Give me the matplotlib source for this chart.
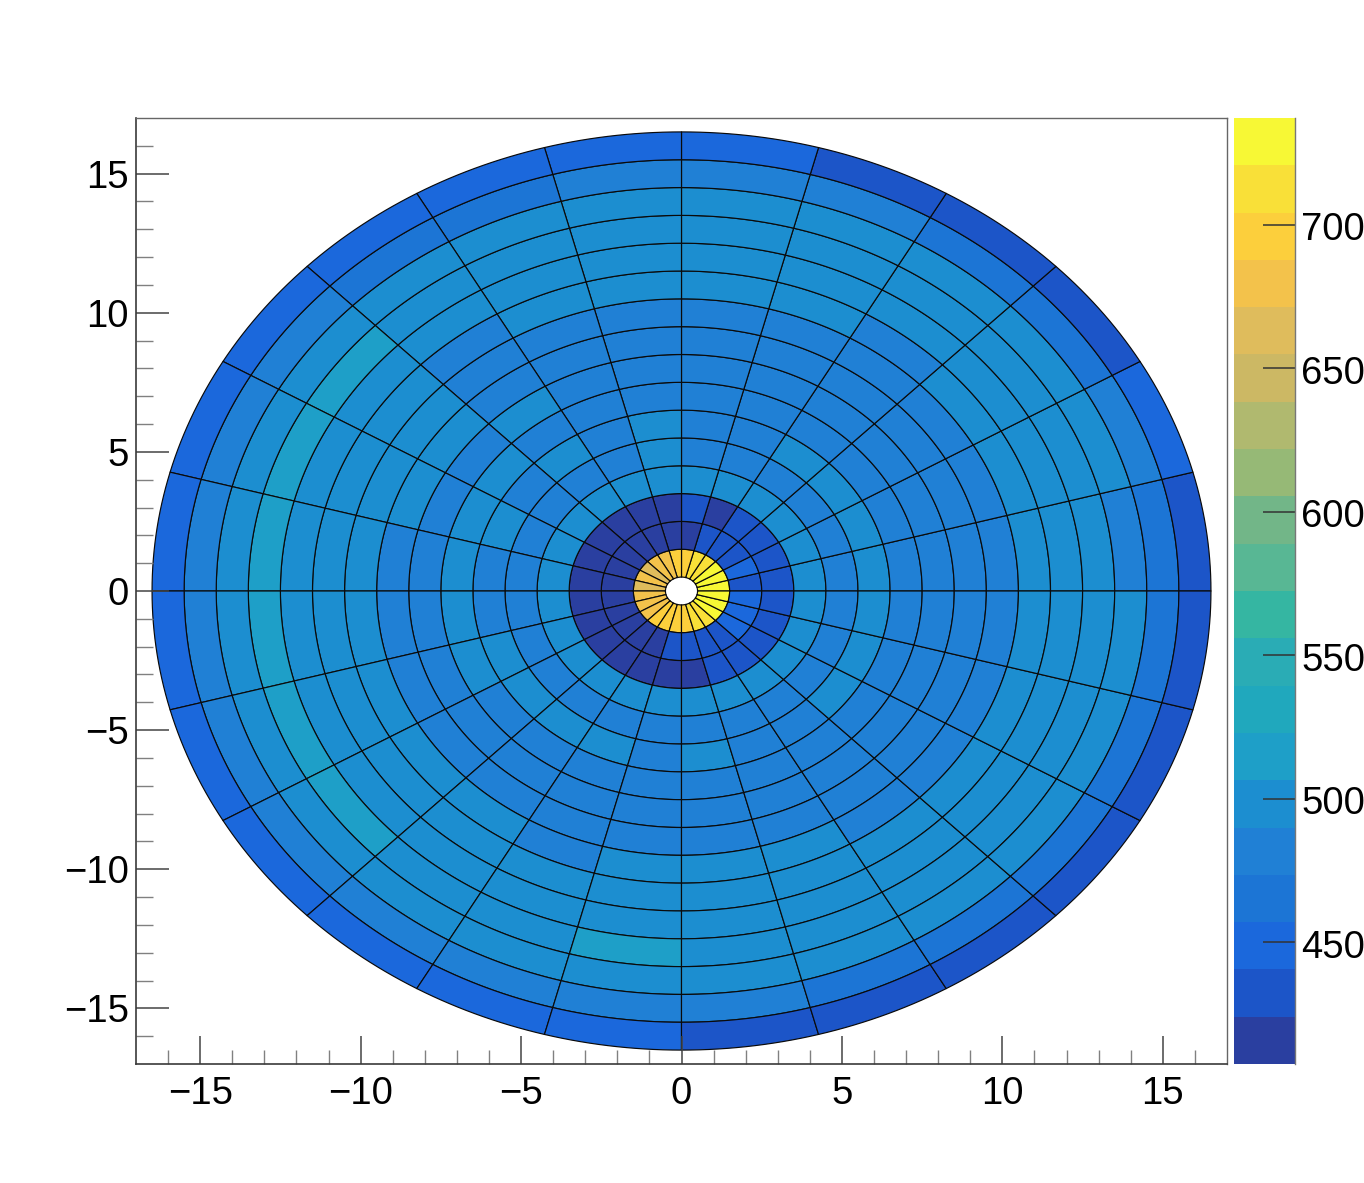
import numpy as np
import matplotlib
matplotlib.use("Agg")
import matplotlib.pyplot as plt
from matplotlib.collections import PolyCollection
from matplotlib.colors import ListedColormap, BoundaryNorm
from matplotlib.transforms import ScaledTranslation

# Bin structure
radial_edges = np.arange(0.5, 17.0, 1.0)
sector_edges_deg = np.arange(0, 361, 15)

# Cell contents per ring (inner to outer), sectors counter-clockwise from 0 degrees
ring_01 = [729,729,729,712,712,696,696,679,679,663,679,663,679,679,679,696,696,696,696,712,712,729,729,729]
ring_02 = [432,449,432,432,432,416,416,416,416,416,416,416,416,416,416,416,416,432,432,432,432,449,449,449]
ring_03 = [432,432,432,432,416,432,416,416,416,416,416,416,416,416,416,416,416,416,416,432,432,432,432,432]
ring_04 = [498,498,498,498,498,498,498,498,498,498,498,498,498,498,498,498,498,498,498,498,498,498,498,498]
ring_05 = [482,482,482,482,482,482,498,482,482,482,482,482,482,482,482,482,482,482,482,482,482,482,482,482]
ring_06 = [498,498,498,498,482,482,498,482,498,482,498,482,482,498,498,498,498,482,498,482,482,498,498,498]
ring_07 = [482,482,482,482,482,482,482,482,482,498,498,498,498,498,482,482,482,482,482,482,482,482,482,482]
ring_08 = [482,482,482,482,482,482,482,482,498,482,482,482,482,482,482,482,482,482,482,482,482,482,482,482]
ring_09 = [482,482,482,482,482,482,482,482,482,498,498,482,482,482,482,482,482,482,482,482,482,482,482,482]
ring_10 = [482,482,482,482,482,482,482,482,482,498,498,498,498,498,498,498,482,498,498,498,482,482,482,482]
ring_11 = [498,498,498,482,498,498,498,498,482,498,498,498,498,498,498,498,498,498,498,498,498,498,498,498]
ring_12 = [498,498,498,498,498,498,498,498,498,498,498,498,498,498,498,498,498,498,498,498,498,498,498,498]
ring_13 = [498,498,498,498,498,498,498,498,498,515,515,515,515,515,515,498,498,515,498,498,498,498,498,498]
ring_14 = [482,498,498,498,498,498,498,498,498,498,498,498,498,498,498,498,498,498,498,498,498,498,498,498]
ring_15 = [465,482,465,465,482,482,482,465,465,482,482,482,482,482,482,482,482,482,482,465,465,465,465,465]
ring_16 = [432,449,432,432,432,449,449,449,449,449,449,449,449,449,449,449,449,449,432,432,432,432,432,432]
rings = [ring_01, ring_02, ring_03, ring_04, ring_05, ring_06, ring_07, ring_08,
         ring_09, ring_10, ring_11, ring_12, ring_13, ring_14, ring_15, ring_16]

# Palette as rendered in the colour bar, low to high
palette = ["#2a3fa0", "#1c55c8", "#1b68dc", "#1c75d5", "#2080d5", "#1c8ed0", "#1e9fc8",
           "#20a8bd", "#2aacb5", "#35b6a2", "#58b794", "#72b688", "#96b976", "#b0b96f",
           "#ccb864", "#dfbc5c", "#f3c24b", "#fccf3c", "#f9e038", "#f7f835"]
z_min = 407.5
z_max = 737.2

x_ticks = [-15, -10, -5, 0, 5, 10, 15]
y_ticks = [-15, -10, -5, 0, 5, 10, 15]
minor_ticks = [-16, -14, -13, -12, -11, -9, -8, -7, -6, -4, -3, -2, -1,
               1, 2, 3, 4, 6, 7, 8, 9, 11, 12, 13, 14, 16]
z_ticks = [450, 500, 550, 600, 650, 700]

plt.rcParams["font.family"] = ["Liberation Sans", "DejaVu Sans"]
W, H = 1364, 1183
fig = plt.figure(figsize=(W / 100, H / 100), dpi=100, facecolor="white")
PX = 0.72
FONT = 27.5

ax = fig.add_axes([136 / W, 1 - 1064 / H, (1227 - 136) / W, (1064 - 118) / H])
cax = fig.add_axes([1234 / W, 1 - 1064 / H, (1295 - 1234) / W, (1064 - 118) / H])

level_edges = np.linspace(z_min, z_max, len(palette) + 1)
cmap = ListedColormap(palette)
norm = BoundaryNorm(level_edges, cmap.N)

polys, vals = [], []
for i, ring in enumerate(rings):
    r0, r1 = radial_edges[i], radial_edges[i + 1]
    for j, value in enumerate(ring):
        t = np.radians(np.linspace(sector_edges_deg[j], sector_edges_deg[j + 1], 16))
        xs = np.r_[r0 * np.cos(t), r1 * np.cos(t[::-1])]
        ys = np.r_[r0 * np.sin(t), r1 * np.sin(t[::-1])]
        polys.append(np.column_stack([xs, ys]))
        vals.append(value)
ax.add_collection(PolyCollection(polys, array=np.array(vals), cmap=cmap, norm=norm,
                                 edgecolors="#0a0a0a", linewidths=0.85))

ax.set_xlim(-17, 17)
ax.set_ylim(-17, 17)
ax.set_xticks(x_ticks)
ax.set_yticks(y_ticks)
ax.set_xticks(minor_ticks, minor=True)
ax.set_yticks(minor_ticks, minor=True)
ax.tick_params(axis="x", which="major", direction="in", length=28 * PX, width=1.1, color="#444444",
               labelsize=FONT, pad=8.5)
ax.tick_params(axis="x", which="minor", direction="in", length=14 * PX, width=1.0, color="#808080")
ax.tick_params(axis="y", which="major", direction="in", length=33 * PX, width=1.1, color="#444444",
               labelsize=FONT, pad=5)
ax.tick_params(axis="y", which="minor", direction="in", length=16.5 * PX, width=1.0, color="#808080")
for name, s in ax.spines.items():
    s.set_linewidth(1.2 if name in ("left", "bottom") else 1.0)
    s.set_color("#3a3a3a" if name in ("left", "bottom") else "#666666")

cax.pcolormesh([0, 1], level_edges, np.array(level_edges[:-1] + np.diff(level_edges) / 2)[:, None],
               cmap=cmap, norm=norm)
cax.set_xlim(0, 1)
cax.set_ylim(z_min, z_max)
cax.set_xticks([])
cax.yaxis.tick_right()
cax.set_yticks(z_ticks)
cax.tick_params(axis="y", which="major", direction="in", length=32 * PX, width=1.1,
                color="#333333", labelsize=FONT, pad=4.5)
shift = ScaledTranslation(0, -1.5 / 100, fig.dpi_scale_trans)
for label in cax.get_yticklabels():
    label.set_transform(label.get_transform() + shift)
for name, s in cax.spines.items():
    s.set_visible(name == "right")
    s.set_color("#777777")
    s.set_linewidth(1.0)

fig.savefig("out.png", dpi=100, facecolor="white")
